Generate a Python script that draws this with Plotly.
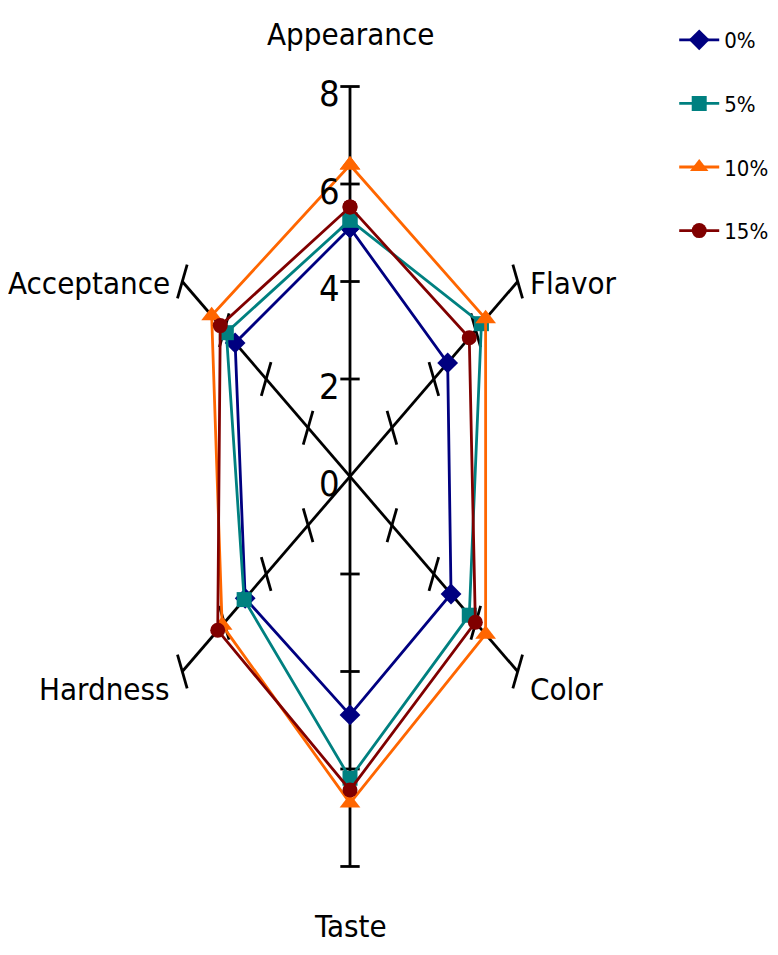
import math
import plotly.graph_objects as go

# ---- data ----
categories = ["Appearance", "Flavor", "Color", "Taste", "Hardness", "Acceptance"]
series_names = ["0%", "5%", "10%", "15%"]
s0 = [5.10, 4.66, 4.82, 4.89, 5.00, 5.48]
s5 = [5.26, 6.27, 5.69, 6.19, 5.05, 5.90]
s10 = [6.39, 6.47, 6.47, 6.70, 6.10, 6.60]
s15 = [5.53, 5.69, 5.98, 6.43, 6.31, 6.19]
tick_values = [2, 4, 6, 8]
tick_labels = ["0", "2", "4", "6", "8"]
r_max = 8

colors = ["#000080", "#008080", "#FF6600", "#800000"]
symbols = ["diamond", "square", "triangle-up", "circle"]
sizes = [16, 15, 18, 15]

FONT = "DejaVu Sans Condensed, Liberation Sans Narrow, Arial Narrow, sans-serif"

n = len(categories)
angles = [2 * math.pi * i / n for i in range(n)]  # clockwise from top


def proj(v, a):
    return v * math.sin(a), v * math.cos(a)


fig = go.Figure()

# spokes (each full line through centre)
for i in range(n // 2):
    a = angles[i]
    x1, y1 = proj(r_max, a)
    x2, y2 = proj(-r_max, a)
    fig.add_trace(go.Scatter(x=[x2, x1], y=[y2, y1], mode="lines",
                             line=dict(color="black", width=2.8),
                             showlegend=False, hoverinfo="skip"))

# tick marks on every spoke
h = 0.40
tx, ty = [], []
for a in angles:
    px, py = math.cos(a), -math.sin(a)
    for t in tick_values:
        cx, cy = proj(t, a)
        tx += [cx - h * px, cx + h * px, None]
        ty += [cy - h * py, cy + h * py, None]
fig.add_trace(go.Scatter(x=tx, y=ty, mode="lines",
                         line=dict(color="black", width=2.8),
                         showlegend=False, hoverinfo="skip"))

# data series
for k, vals in enumerate([s0, s5, s10, s15]):
    xs, ys = [], []
    for v, a in zip(vals + vals[:1], angles + angles[:1]):
        x, y = proj(v, a)
        xs.append(x)
        ys.append(y)
    fig.add_trace(go.Scatter(
        x=xs, y=ys, mode="lines+markers", name=series_names[k],
        legendgroup=series_names[k],
        line=dict(color=colors[k], width=2.8),
        marker=dict(symbol=symbols[k], size=sizes[k], color=colors[k]),
    ))

# category labels
ann = []
label_pos = {
    "Appearance": (0, 9.07, "center"),
    "Flavor": (7.36, 3.96, "left"),
    "Color": (7.36, -4.35, "left"),
    "Taste": (0, -9.22, "center"),
    "Hardness": (-7.36, -4.35, "right"),
    "Acceptance": (-7.36, 3.96, "right"),
}
for c in categories:
    x, y, xa = label_pos[c]
    ann.append(dict(x=x, y=y, xref="x", yref="y", text=c, showarrow=False,
                    xanchor=xa, yanchor="middle",
                    font=dict(family=FONT, size=31, color="black")))

# radial tick labels on the top spoke
for i, lab in enumerate(tick_labels):
    ann.append(dict(x=-0.35, y=float(lab), xref="x", yref="y", text=lab,
                    showarrow=False, xanchor="right", yanchor="middle",
                    yshift=-7,
                    font=dict(family=FONT, size=36, color="black")))

fig.update_layout(
    width=778, height=955,
    margin=dict(l=0, r=94, t=11, b=29, autoexpand=False),
    paper_bgcolor="white", plot_bgcolor="white",
    xaxis=dict(visible=False, range=[-14.13, 14.13], fixedrange=True),
    yaxis=dict(visible=False, range=[-9.385, 9.385], fixedrange=True),
    annotations=ann,
    legend=dict(x=0.974, y=1.0, xanchor="left", yanchor="top",
                font=dict(family=FONT, size=22, color="black"),
                tracegroupgap=32, itemwidth=40, bgcolor="rgba(0,0,0,0)"),
)

fig.write_html("out.html")
